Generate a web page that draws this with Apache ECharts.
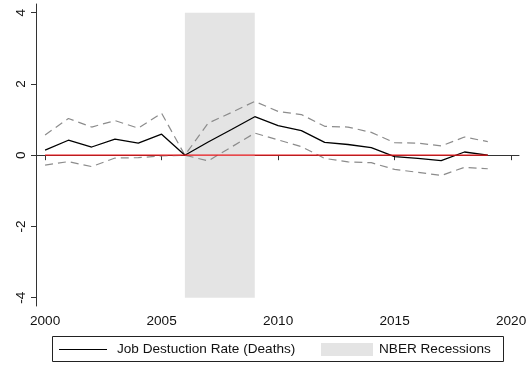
<!DOCTYPE html>
<html>
<head>
<meta charset="utf-8">
<script src="https://cdn.jsdelivr.net/npm/echarts@6/dist/echarts.min.js"></script>
<style>
  html, body { margin: 0; padding: 0; background: #fff; }
  #chart { width: 530px; height: 365px; }
</style>
</head>
<body>
<div id="chart"></div>
<script>
// Years on the horizontal axis
var years = [2000, 2001, 2002, 2003, 2004, 2005, 2006, 2007, 2008, 2009,
             2010, 2011, 2012, 2013, 2014, 2015, 2016, 2017, 2018, 2019];

// Point estimate: job destruction rate (deaths)
var estimate = [0.14, 0.42, 0.23, 0.45, 0.34, 0.59, 0.00, 0.37, 0.72, 1.08,
                0.83, 0.69, 0.36, 0.30, 0.21, -0.04, -0.09, -0.15, 0.09, 0.00];

// Confidence band, upper and lower bounds
var upper = [0.57, 1.03, 0.79, 0.97, 0.76, 1.18, 0.00, 0.90, 1.20, 1.51,
             1.23, 1.14, 0.81, 0.79, 0.64, 0.35, 0.34, 0.26, 0.51, 0.38];
var lower = [-0.28, -0.18, -0.32, -0.08, -0.07, -0.02, 0.00, -0.16, 0.23, 0.62,
             0.43, 0.24, -0.09, -0.19, -0.21, -0.40, -0.48, -0.57, -0.34, -0.38];

// Recession span and reference level
var recession = [2006, 2009];
var recessionRange = [-4, 4];
var zeroLevel = 0;

// Tick labels
var xTicks = [2000, 2005, 2010, 2015, 2020];
var yTicks = [-4, -2, 0, 2, 4];

var legendNames = ['Job Destuction Rate (Deaths)', 'NBER Recessions'];

function pairs(vals) {
  return years.map(function (y, i) { return [y, vals[i]]; });
}

var font = '"Liberation Sans", Arial, sans-serif';
var fontSize = 13.6;
var axisColor = '#333';

var chart = echarts.init(document.getElementById('chart'), null, { renderer: 'canvas' });

chart.setOption({
  animation: false,
  backgroundColor: '#fff',
  grid: { left: 36, right: 11, top: 4, bottom: 59, containLabel: false },
  xAxis: {
    type: 'value',
    min: 1999.61,
    max: 2020.34,
    splitLine: { show: false },
    axisLine: { show: true, lineStyle: { color: axisColor, width: 1 } },
    axisTick: { show: true, length: 5, customValues: xTicks, lineStyle: { color: axisColor } },
    axisLabel: {
      customValues: xTicks, margin: 8, color: '#111',
      fontFamily: font, fontSize: fontSize,
      formatter: function (v) { return String(Math.round(v)); }
    }
  },
  yAxis: {
    type: 'value',
    min: -4.233,
    max: 4.244,
    splitLine: { show: false },
    axisLine: { show: true, onZero: false, lineStyle: { color: axisColor, width: 1 } },
    axisTick: { show: true, length: 5, customValues: yTicks, lineStyle: { color: axisColor } },
    axisLabel: {
      customValues: yTicks, rotate: 90, margin: 8, color: '#111',
      fontFamily: font, fontSize: fontSize,
      formatter: function (v) { return String(Math.round(v)); }
    }
  },
  series: [
    {
      name: legendNames[1],
      type: 'line',
      data: [],
      silent: true,
      markArea: {
        silent: true,
        itemStyle: { color: '#e4e4e4' },
        data: [[
          { xAxis: recession[0], yAxis: recessionRange[0] },
          { xAxis: recession[1], yAxis: recessionRange[1] }
        ]]
      }
    },
    {
      name: 'upper',
      type: 'line',
      data: pairs(upper),
      showSymbol: false,
      lineStyle: { color: '#8c8c8c', width: 1.2, type: [8, 5] }
    },
    {
      name: 'lower',
      type: 'line',
      data: pairs(lower),
      showSymbol: false,
      lineStyle: { color: '#8c8c8c', width: 1.2, type: [8, 5] }
    },
    {
      name: legendNames[0],
      type: 'line',
      data: pairs(estimate),
      showSymbol: false,
      lineStyle: { color: '#000', width: 1.3 }
    },
    {
      name: 'zero',
      type: 'line',
      data: years.map(function (y) { return [y, zeroLevel]; }),
      showSymbol: false,
      lineStyle: { color: '#e8161a', width: 1.2 }
    }
  ],
  graphic: [
    {
      type: 'rect',
      shape: { x: 52.5, y: 336.5, width: 451, height: 25 },
      style: { fill: '#fff', stroke: '#222', lineWidth: 1 }
    },
    {
      type: 'line',
      shape: { x1: 59, y1: 349.5, x2: 107, y2: 349.5 },
      style: { stroke: '#000', lineWidth: 1.2 }
    },
    {
      type: 'text',
      x: 117, y: 349.5,
      style: { text: legendNames[0], font: fontSize + 'px ' + font, fill: '#111', textVerticalAlign: 'middle' }
    },
    {
      type: 'rect',
      shape: { x: 321, y: 343, width: 52, height: 13 },
      style: { fill: '#e4e4e4' }
    },
    {
      type: 'text',
      x: 379, y: 349.5,
      style: { text: legendNames[1], font: fontSize + 'px ' + font, fill: '#111', textVerticalAlign: 'middle' }
    }
  ]
});
</script>
</body>
</html>
